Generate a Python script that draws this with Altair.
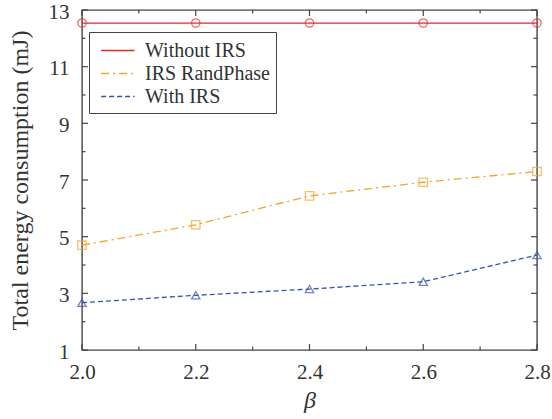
import altair as alt
import pandas as pd

beta = [2.0, 2.2, 2.4, 2.6, 2.8]
without_irs = [12.54, 12.54, 12.54, 12.54, 12.54]
irs_randphase = [4.70, 5.42, 6.44, 6.92, 7.30]
with_irs = [2.67, 2.93, 3.15, 3.41, 4.35]
series_names = ["Without IRS", "IRS RandPhase", "With IRS"]
series_colors = ["#e8282c", "#f5a523", "#3853b0"]
series_shapes = ["circle", "square", "triangle-up"]
series_dashes = [[1, 0], [8, 4, 2, 4], [5, 3]]

x_major = [2.0, 2.2, 2.4, 2.6, 2.8]
x_minor = [2.1, 2.3, 2.5, 2.7]
y_major = [1, 3, 5, 7, 9, 11, 13]
y_minor = [2, 4, 6, 8, 10, 12]

rows = []
for name, vals in zip(series_names, [without_irs, irs_randphase, with_irs]):
    for b, v in zip(beta, vals):
        rows.append({"beta": b, "value": v, "series": name})
df = pd.DataFrame(rows)

W, H = 455, 340
FONT = "Liberation Serif"
TICK = "#444444"

xscale = alt.Scale(domain=[2.0, 2.8], nice=False, zero=False)
yscale = alt.Scale(domain=[1, 13], nice=False, zero=False)
cscale = alt.Scale(domain=series_names, range=series_colors)
dscale = alt.Scale(domain=series_names, range=series_dashes)

lines = alt.Chart(df).mark_line(strokeWidth=1.3).encode(
    x=alt.X("beta:Q", scale=xscale, title="β",
            axis=alt.Axis(values=x_major, format=".1f", labelFlush=False,
                          titleFontStyle="italic", labelPadding=11, titlePadding=6)),
    y=alt.Y("value:Q", scale=yscale, title="Total energy consumption (mJ)",
            axis=alt.Axis(values=y_major, labelFlush=False, labelPadding=13,
                          labelOffset=2, titlePadding=16)),
    color=alt.Color("series:N", scale=cscale, sort=series_names,
                    legend=alt.Legend(title=None, orient="none", legendX=7, legendY=22)),
    strokeDash=alt.StrokeDash("series:N", scale=dscale, sort=series_names,
                              legend=alt.Legend(title=None, orient="none", legendX=7, legendY=22)),
)

point_layers = []
for name, col, shp in zip(series_names, series_colors, series_shapes):
    point_layers.append(
        alt.Chart(df).transform_filter(alt.datum.series == name)
        .mark_point(filled=False, size=70, strokeWidth=1.3, color=col, shape=shp)
        .encode(x=alt.X("beta:Q", scale=xscale), y=alt.Y("value:Q", scale=yscale))
    )

xmaj = pd.DataFrame({"t": x_major})
xmin = pd.DataFrame({"t": x_minor})
ymaj = pd.DataFrame({"t": y_major})
ymin = pd.DataFrame({"t": y_minor})


def xticks(d, length):
    bot = alt.Chart(d).mark_rule(color=TICK, strokeWidth=1.2).encode(
        x=alt.X("t:Q", scale=xscale),
        y=alt.value(H), y2=alt.value(H - length))
    top = alt.Chart(d).mark_rule(color=TICK, strokeWidth=1.2).encode(
        x=alt.X("t:Q", scale=xscale),
        y=alt.value(0), y2=alt.value(length))
    return [bot, top]


def yticks(d, length):
    left = alt.Chart(d).mark_rule(color=TICK, strokeWidth=1.2).encode(
        y=alt.Y("t:Q", scale=yscale),
        x=alt.value(0), x2=alt.value(length))
    right = alt.Chart(d).mark_rule(color=TICK, strokeWidth=1.2).encode(
        y=alt.Y("t:Q", scale=yscale),
        x=alt.value(W), x2=alt.value(W - length))
    return [left, right]


layers = [lines] + point_layers
layers += xticks(xmaj, 6) + xticks(xmin, 3.5) + yticks(ymaj, 6) + yticks(ymin, 3.5)

chart = alt.layer(*layers).properties(
    width=W, height=H,
    padding={"left": 82, "top": 10, "right": 15, "bottom": 69},
    autosize=alt.AutoSizeParams(type="none"),
    background="white",
).configure_view(
    stroke="#444444", strokeWidth=1.4
).configure_axis(
    labelFont=FONT, labelFontSize=21, labelColor="#333333",
    titleFont=FONT, titleFontSize=24, titleFontWeight="normal", titleColor="#333333",
    domain=False, ticks=False, grid=False,
).configure_legend(
    labelFont=FONT, labelFontSize=20, labelColor="#333333",
    symbolType="M-0.56,0H2.38", symbolSize=515, symbolStrokeWidth=1.5,
    strokeColor="#444444", fillColor="white", padding=6, rowPadding=0,
    labelOffset=25, cornerRadius=0,
)

chart.save("out.html", embed_options={"renderer": "svg", "actions": False})
